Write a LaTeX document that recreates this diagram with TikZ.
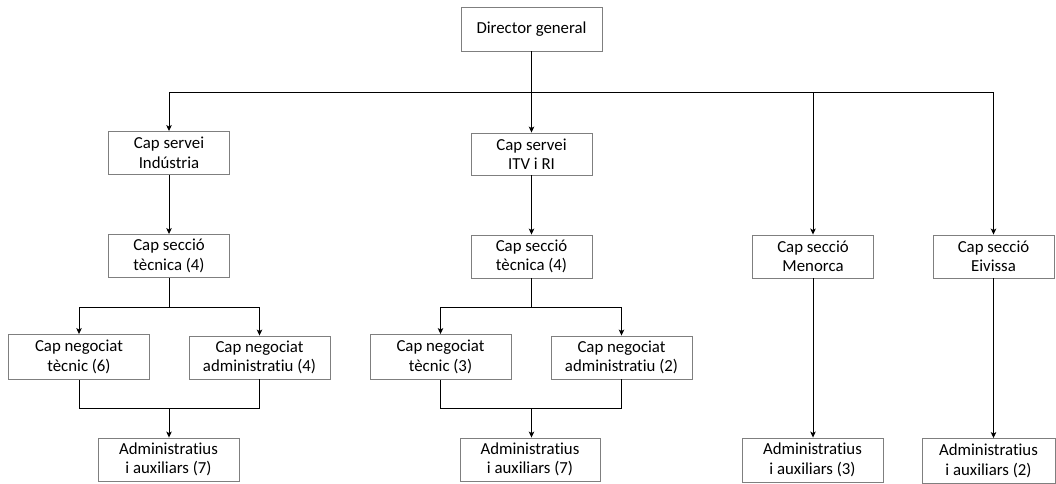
\documentclass[tikz,border=0pt]{standalone}
\usepackage{fontspec}
\setmainfont{Carlito}[Ligatures=NoCommon]
\usetikzlibrary{arrows.meta}
\definecolor{boxline}{RGB}{127,127,127}
\tikzset{
  orgbox/.style={draw=boxline, line width=0.9pt, fill=white, align=center,
    inner sep=0pt, font=\fontsize{16.8}{19.5}\selectfont},
  link/.style={draw=black, line width=1pt},
  arr/.style={link, -{Stealth[length=6pt,width=5.5pt,inset=1.5pt]}}
}
\begin{document}
\begin{tikzpicture}[x=1pt,y=-1pt]
\useasboundingbox (0,0) rectangle (1056,483);

% top level
\node[orgbox, minimum width=141pt, minimum height=44pt] (dg) at (531.5,29) {Director general};

% services and sections
\node[orgbox, minimum width=121pt, minimum height=43pt] (s1) at (169,153) {Cap servei\\Indústria};
\node[orgbox, minimum width=121pt, minimum height=42pt] (s2) at (531.5,154) {Cap servei\\ITV i RI};
\node[orgbox, minimum width=121pt, minimum height=43pt] (t1) at (169,256) {Cap secció\\tècnica (4)};
\node[orgbox, minimum width=121pt, minimum height=43pt] (t2) at (531.5,256.5) {Cap secció\\tècnica (4)};
\node[orgbox, minimum width=121pt, minimum height=43pt] (men) at (813,256.5) {Cap secció\\Menorca};
\node[orgbox, minimum width=121pt, minimum height=43pt] (eiv) at (993.5,256.5) {Cap secció\\Eivissa};

% negotiated units
\node[orgbox, minimum width=141pt, minimum height=45pt] (n1) at (79,357) {Cap negociat\\tècnic (6)};
\node[orgbox, minimum width=141pt, minimum height=43pt] (n2) at (259.5,357.5) {Cap negociat\\administratiu (4)};
\node[orgbox, minimum width=141pt, minimum height=45pt] (n3) at (440.5,357) {Cap negociat\\tècnic (3)};
\node[orgbox, minimum width=141pt, minimum height=43pt] (n4) at (621.5,357.5) {Cap negociat\\administratiu (2)};

% staff
\node[orgbox, minimum width=141pt, minimum height=43pt] (a1) at (168.5,459.5) {Administratius\\i auxiliars (7)};
\node[orgbox, minimum width=140pt, minimum height=43pt] (a2) at (530,459.5) {Administratius\\i auxiliars (7)};
\node[orgbox, minimum width=141pt, minimum height=44pt] (a3) at (812.5,460) {Administratius\\i auxiliars (3)};
\node[orgbox, minimum width=133pt, minimum height=45pt] (a4) at (988.5,461) {Administratius\\i auxiliars (2)};

% bus levels
\coordinate (bus) at (0,92);
\coordinate (br) at (0,307);
\coordinate (mg) at (0,408);

% director to services and sections
\draw[link] (dg.south) -- (dg.south |- bus);
\draw[arr] (dg.south |- bus) -| (s1.north);
\draw[arr] (dg.south |- bus) -- (s2.north);
\draw[arr] (dg.south |- bus) -| (men.north);
\draw[arr] (dg.south |- bus) -| (eiv.north);

% services to technical sections
\draw[arr] (s1) -- (t1);
\draw[arr] (s2) -- (t2);

% sections to negotiated units
\draw[link] (t1.south) -- (t1.south |- br);
\draw[arr] (t1.south |- br) -| (n1.north);
\draw[arr] (t1.south |- br) -| (n2.north);
\draw[link] (t2.south) -- (t2.south |- br);
\draw[arr] (t2.south |- br) -| (n3.north);
\draw[arr] (t2.south |- br) -| (n4.north);

% negotiated units to staff
\draw[link] (n1.south) |- (n2.south |- mg) -- (n2.south);
\draw[arr] (t1.south |- mg) -- (t1.south |- a1.north);
\draw[link] (n3.south) |- (n4.south |- mg) -- (n4.south);
\draw[arr] (t2.south |- mg) -- (t2.south |- a2.north);

% island sections to staff
\draw[arr] (men.south) -- (men.south |- a3.north);
\draw[arr] (eiv.south) -- (eiv.south |- a4.north);
\end{tikzpicture}
\end{document}
